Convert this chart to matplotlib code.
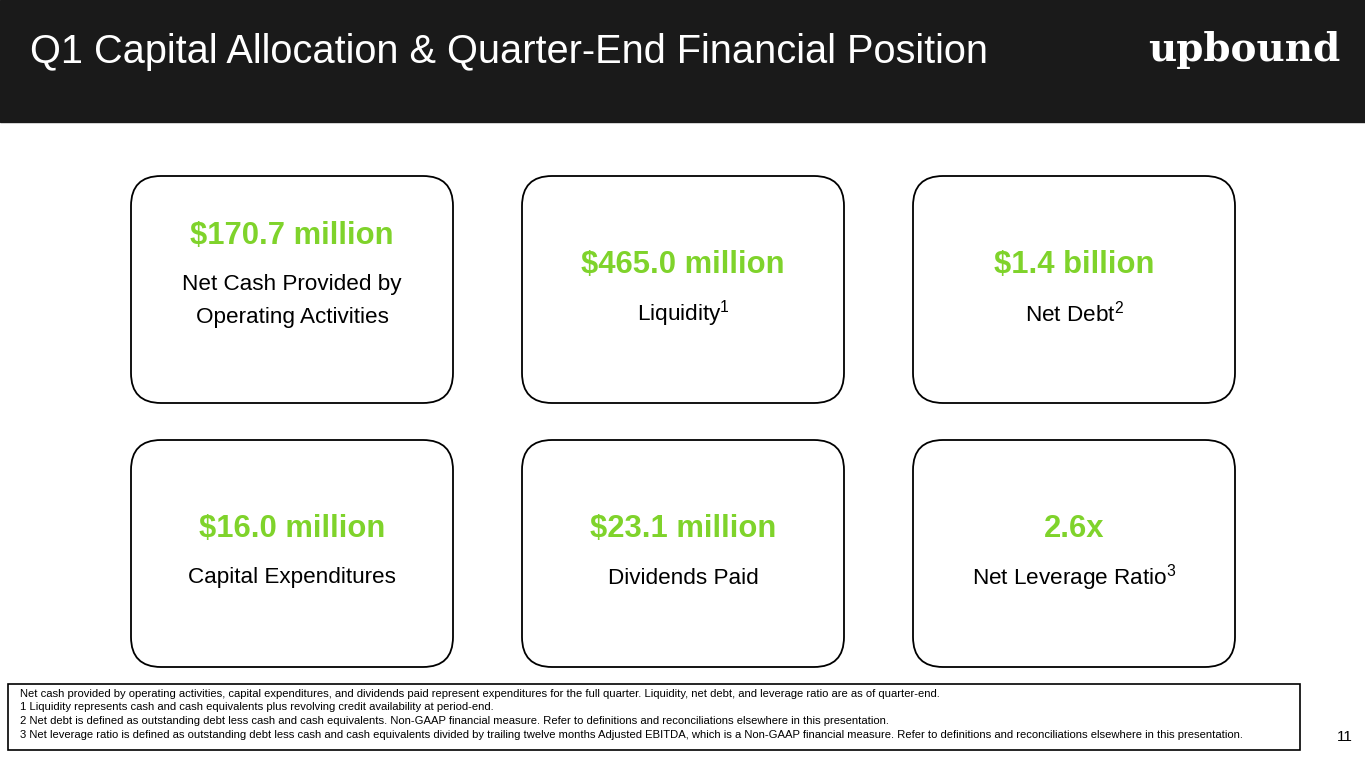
import matplotlib
matplotlib.use("Agg")
import matplotlib.pyplot as plt
from matplotlib.patches import FancyBboxPatch, Rectangle

plt.rcParams["font.family"] = ["Liberation Sans", "DejaVu Sans"]
plt.rcParams["mathtext.default"] = "regular"

values = ["$170.7 million", "$465.0 million", "$1.4 billion",
          "$16.0 million", "$23.1 million", "2.6x"]
labels = ["Net Cash Provided by\nOperating Activities", "Liquidity$^1$", "Net Debt$^2$",
          "Capital Expenditures", "Dividends Paid", "Net Leverage Ratio$^3$"]
footnotes = [
    "Net cash provided by operating activities, capital expenditures, and dividends paid represent expenditures for the full quarter. Liquidity, net debt, and leverage ratio are as of quarter-end.",
    "1 Liquidity represents cash and cash equivalents plus revolving credit availability at period-end.",
    "2 Net debt is defined as outstanding debt less cash and cash equivalents. Non-GAAP financial measure. Refer to definitions and reconciliations elsewhere in this presentation.",
    "3 Net leverage ratio is defined as outstanding debt less cash and cash equivalents divided by trailing twelve months Adjusted EBITDA, which is a Non-GAAP financial measure. Refer to definitions and reconciliations elsewhere in this presentation.",
]
green = "#7fd32b"

fig = plt.figure(figsize=(13.65, 7.68), dpi=100)
ax = fig.add_axes([0, 0, 1, 1])
ax.set_xlim(0, 1365)
ax.set_ylim(768, 0)
ax.axis("off")

# header
ax.add_patch(Rectangle((0, 0), 1365, 122, color="#1a1a1a"))
ax.text(30, 52, "Q1 Capital Allocation & Quarter-End Financial Position",
        color="white", fontsize=28.6, va="center", ha="left")
ax.text(1340, 50, "upbound", color="white", fontsize=28, fontweight="bold",
        family="DejaVu Serif", va="center", ha="right")

# cards
xs = [131, 522, 913]
ys = [176, 440]
w, h = 322, 227
for i, (v, lab) in enumerate(zip(values, labels)):
    x0 = xs[i % 3]
    y0 = ys[i // 3]
    ax.add_patch(FancyBboxPatch((x0 + 30, y0 + 30), w - 60, h - 60,
                                boxstyle="round,pad=30", fc="white",
                                ec="black", lw=1.3))
    cx = x0 + w / 2
    if "\n" in lab:
        ax.text(cx, y0 + 60, v, color=green, fontsize=22.3, fontweight="bold",
                ha="center", va="center")
        ax.text(cx, y0 + 125, lab, fontsize=16.2, ha="center", va="center",
                linespacing=1.75)
    else:
        ax.text(cx, y0 + 89, v, color=green, fontsize=22.3, fontweight="bold",
                ha="center", va="center")
        ax.text(cx, y0 + 138, lab, fontsize=16.2, ha="center", va="center")

# footnote box
ax.add_patch(Rectangle((8, 684), 1292, 66, fc="white", ec="black", lw=1.2))
for k, line in enumerate(footnotes):
    ax.text(20, 694 + k * 13.5, line, fontsize=8.15, ha="left", va="center")
ax.text(1345, 737, "11", fontsize=11, ha="center", va="center")

fig.savefig("out.png", dpi=100)
